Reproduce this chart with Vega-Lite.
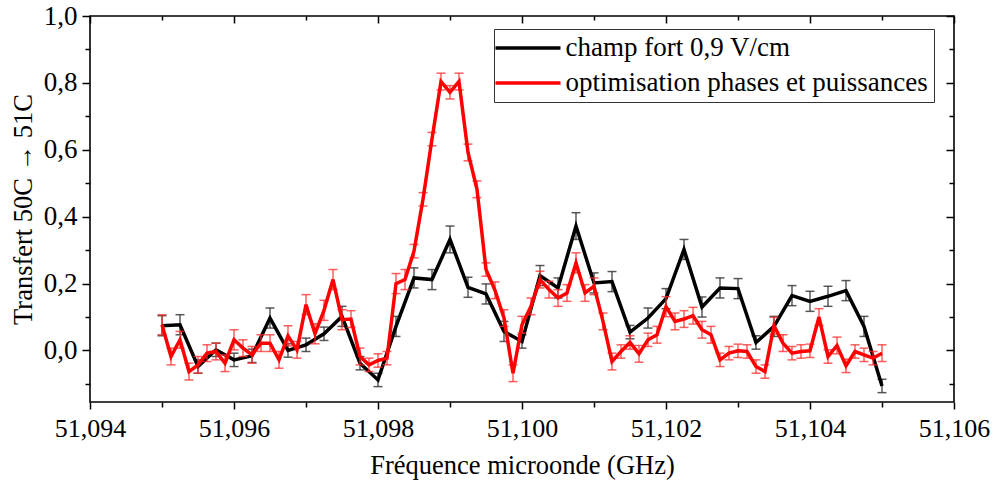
{
  "$schema": "https://vega.github.io/schema/vega-lite/v6.json",
  "width": 864,
  "height": 386,
  "autosize": {"type": "none"},
  "padding": {"left": 90, "top": 16, "right": 40, "bottom": 94},
  "background": "white",
  "config": {
    "view": {"stroke": "#000000", "strokeWidth": 1.6},
    "axis": {
      "grid": false,
      "domain": false,
      "labelFont": "Liberation Serif",
      "labelFontSize": 26,
      "labelColor": "#000000",
      "titleFont": "Liberation Serif",
      "titleFontSize": 26.5,
      "titleFontWeight": "normal",
      "titleColor": "#000000",
      "tickColor": "#000000",
      "tickWidth": 1.5,
      "labelFlush": false,
      "labelOverlap": false
    },
    "legend": {
      "labelFont": "Liberation Serif",
      "labelFontSize": 27,
      "labelColor": "#000000"
    }
  },
  "datasets": {
    "black": [
      {"x": 51.09500, "y": 0.074, "err": 0.03, "series": "champ fort 0,9 V/cm"},
      {"x": 51.09525, "y": 0.077, "err": 0.03, "series": "champ fort 0,9 V/cm"},
      {"x": 51.09550, "y": -0.048, "err": 0.02, "series": "champ fort 0,9 V/cm"},
      {"x": 51.09575, "y": 0.002, "err": 0.02, "series": "champ fort 0,9 V/cm"},
      {"x": 51.09600, "y": -0.028, "err": 0.02, "series": "champ fort 0,9 V/cm"},
      {"x": 51.09625, "y": -0.016, "err": 0.02, "series": "champ fort 0,9 V/cm"},
      {"x": 51.09650, "y": 0.097, "err": 0.03, "series": "champ fort 0,9 V/cm"},
      {"x": 51.09675, "y": 0.000, "err": 0.02, "series": "champ fort 0,9 V/cm"},
      {"x": 51.09700, "y": 0.017, "err": 0.02, "series": "champ fort 0,9 V/cm"},
      {"x": 51.09725, "y": 0.050, "err": 0.02, "series": "champ fort 0,9 V/cm"},
      {"x": 51.09750, "y": 0.102, "err": 0.03, "series": "champ fort 0,9 V/cm"},
      {"x": 51.09775, "y": -0.038, "err": 0.02, "series": "champ fort 0,9 V/cm"},
      {"x": 51.09800, "y": -0.088, "err": 0.02, "series": "champ fort 0,9 V/cm"},
      {"x": 51.09825, "y": 0.072, "err": 0.03, "series": "champ fort 0,9 V/cm"},
      {"x": 51.09850, "y": 0.217, "err": 0.03, "series": "champ fort 0,9 V/cm"},
      {"x": 51.09875, "y": 0.212, "err": 0.03, "series": "champ fort 0,9 V/cm"},
      {"x": 51.09900, "y": 0.332, "err": 0.04, "series": "champ fort 0,9 V/cm"},
      {"x": 51.09925, "y": 0.189, "err": 0.03, "series": "champ fort 0,9 V/cm"},
      {"x": 51.09950, "y": 0.169, "err": 0.03, "series": "champ fort 0,9 V/cm"},
      {"x": 51.09975, "y": 0.057, "err": 0.03, "series": "champ fort 0,9 V/cm"},
      {"x": 51.10000, "y": 0.027, "err": 0.02, "series": "champ fort 0,9 V/cm"},
      {"x": 51.10025, "y": 0.224, "err": 0.03, "series": "champ fort 0,9 V/cm"},
      {"x": 51.10050, "y": 0.187, "err": 0.03, "series": "champ fort 0,9 V/cm"},
      {"x": 51.10075, "y": 0.372, "err": 0.04, "series": "champ fort 0,9 V/cm"},
      {"x": 51.10100, "y": 0.202, "err": 0.03, "series": "champ fort 0,9 V/cm"},
      {"x": 51.10125, "y": 0.206, "err": 0.03, "series": "champ fort 0,9 V/cm"},
      {"x": 51.10150, "y": 0.055, "err": 0.02, "series": "champ fort 0,9 V/cm"},
      {"x": 51.10175, "y": 0.097, "err": 0.03, "series": "champ fort 0,9 V/cm"},
      {"x": 51.10200, "y": 0.155, "err": 0.03, "series": "champ fort 0,9 V/cm"},
      {"x": 51.10225, "y": 0.302, "err": 0.03, "series": "champ fort 0,9 V/cm"},
      {"x": 51.10250, "y": 0.130, "err": 0.03, "series": "champ fort 0,9 V/cm"},
      {"x": 51.10275, "y": 0.187, "err": 0.03, "series": "champ fort 0,9 V/cm"},
      {"x": 51.10300, "y": 0.185, "err": 0.03, "series": "champ fort 0,9 V/cm"},
      {"x": 51.10325, "y": 0.024, "err": 0.02, "series": "champ fort 0,9 V/cm"},
      {"x": 51.10350, "y": 0.072, "err": 0.03, "series": "champ fort 0,9 V/cm"},
      {"x": 51.10375, "y": 0.164, "err": 0.03, "series": "champ fort 0,9 V/cm"},
      {"x": 51.10400, "y": 0.147, "err": 0.03, "series": "champ fort 0,9 V/cm"},
      {"x": 51.10425, "y": 0.162, "err": 0.03, "series": "champ fort 0,9 V/cm"},
      {"x": 51.10450, "y": 0.179, "err": 0.03, "series": "champ fort 0,9 V/cm"},
      {"x": 51.10475, "y": 0.072, "err": 0.03, "series": "champ fort 0,9 V/cm"},
      {"x": 51.10500, "y": -0.106, "err": 0.02, "series": "champ fort 0,9 V/cm"}
    ],
    "red": [
      {"x": 51.095000, "y": 0.077, "err": 0.03, "series": "optimisation phases et puissances"},
      {"x": 51.095125, "y": -0.018, "err": 0.025, "series": "optimisation phases et puissances"},
      {"x": 51.095250, "y": 0.032, "err": 0.025, "series": "optimisation phases et puissances"},
      {"x": 51.095375, "y": -0.063, "err": 0.025, "series": "optimisation phases et puissances"},
      {"x": 51.095500, "y": -0.043, "err": 0.025, "series": "optimisation phases et puissances"},
      {"x": 51.095625, "y": -0.008, "err": 0.025, "series": "optimisation phases et puissances"},
      {"x": 51.095750, "y": -0.003, "err": 0.025, "series": "optimisation phases et puissances"},
      {"x": 51.095875, "y": -0.038, "err": 0.025, "series": "optimisation phases et puissances"},
      {"x": 51.096000, "y": 0.032, "err": 0.03, "series": "optimisation phases et puissances"},
      {"x": 51.096125, "y": 0.007, "err": 0.025, "series": "optimisation phases et puissances"},
      {"x": 51.096250, "y": -0.013, "err": 0.025, "series": "optimisation phases et puissances"},
      {"x": 51.096375, "y": 0.022, "err": 0.025, "series": "optimisation phases et puissances"},
      {"x": 51.096500, "y": 0.022, "err": 0.025, "series": "optimisation phases et puissances"},
      {"x": 51.096625, "y": -0.028, "err": 0.025, "series": "optimisation phases et puissances"},
      {"x": 51.096750, "y": 0.044, "err": 0.03, "series": "optimisation phases et puissances"},
      {"x": 51.096875, "y": 0.002, "err": 0.025, "series": "optimisation phases et puissances"},
      {"x": 51.097000, "y": 0.137, "err": 0.03, "series": "optimisation phases et puissances"},
      {"x": 51.097125, "y": 0.050, "err": 0.03, "series": "optimisation phases et puissances"},
      {"x": 51.097250, "y": 0.120, "err": 0.03, "series": "optimisation phases et puissances"},
      {"x": 51.097375, "y": 0.212, "err": 0.03, "series": "optimisation phases et puissances"},
      {"x": 51.097500, "y": 0.092, "err": 0.03, "series": "optimisation phases et puissances"},
      {"x": 51.097625, "y": 0.094, "err": 0.025, "series": "optimisation phases et puissances"},
      {"x": 51.097750, "y": -0.018, "err": 0.025, "series": "optimisation phases et puissances"},
      {"x": 51.097875, "y": -0.043, "err": 0.02, "series": "optimisation phases et puissances"},
      {"x": 51.098000, "y": -0.030, "err": 0.02, "series": "optimisation phases et puissances"},
      {"x": 51.098125, "y": -0.023, "err": 0.02, "series": "optimisation phases et puissances"},
      {"x": 51.098250, "y": 0.200, "err": 0.03, "series": "optimisation phases et puissances"},
      {"x": 51.098375, "y": 0.212, "err": 0.03, "series": "optimisation phases et puissances"},
      {"x": 51.098500, "y": 0.297, "err": 0.02, "series": "optimisation phases et puissances"},
      {"x": 51.098625, "y": 0.452, "err": 0.02, "series": "optimisation phases et puissances"},
      {"x": 51.098750, "y": 0.632, "err": 0.02, "series": "optimisation phases et puissances"},
      {"x": 51.098875, "y": 0.804, "err": 0.025, "series": "optimisation phases et puissances"},
      {"x": 51.099000, "y": 0.772, "err": 0.02, "series": "optimisation phases et puissances"},
      {"x": 51.099125, "y": 0.804, "err": 0.025, "series": "optimisation phases et puissances"},
      {"x": 51.099250, "y": 0.592, "err": 0.025, "series": "optimisation phases et puissances"},
      {"x": 51.099375, "y": 0.482, "err": 0.025, "series": "optimisation phases et puissances"},
      {"x": 51.099500, "y": 0.242, "err": 0.02, "series": "optimisation phases et puissances"},
      {"x": 51.099625, "y": 0.180, "err": 0.025, "series": "optimisation phases et puissances"},
      {"x": 51.099750, "y": 0.097, "err": 0.025, "series": "optimisation phases et puissances"},
      {"x": 51.099875, "y": -0.068, "err": 0.025, "series": "optimisation phases et puissances"},
      {"x": 51.100000, "y": 0.077, "err": 0.025, "series": "optimisation phases et puissances"},
      {"x": 51.100125, "y": 0.132, "err": 0.025, "series": "optimisation phases et puissances"},
      {"x": 51.100250, "y": 0.212, "err": 0.025, "series": "optimisation phases et puissances"},
      {"x": 51.100375, "y": 0.182, "err": 0.025, "series": "optimisation phases et puissances"},
      {"x": 51.100500, "y": 0.157, "err": 0.025, "series": "optimisation phases et puissances"},
      {"x": 51.100625, "y": 0.172, "err": 0.025, "series": "optimisation phases et puissances"},
      {"x": 51.100750, "y": 0.262, "err": 0.03, "series": "optimisation phases et puissances"},
      {"x": 51.100875, "y": 0.172, "err": 0.025, "series": "optimisation phases et puissances"},
      {"x": 51.101000, "y": 0.192, "err": 0.025, "series": "optimisation phases et puissances"},
      {"x": 51.101125, "y": 0.087, "err": 0.025, "series": "optimisation phases et puissances"},
      {"x": 51.101250, "y": -0.033, "err": 0.025, "series": "optimisation phases et puissances"},
      {"x": 51.101375, "y": -0.003, "err": 0.02, "series": "optimisation phases et puissances"},
      {"x": 51.101500, "y": 0.024, "err": 0.02, "series": "optimisation phases et puissances"},
      {"x": 51.101625, "y": -0.010, "err": 0.025, "series": "optimisation phases et puissances"},
      {"x": 51.101750, "y": 0.032, "err": 0.02, "series": "optimisation phases et puissances"},
      {"x": 51.101875, "y": 0.047, "err": 0.025, "series": "optimisation phases et puissances"},
      {"x": 51.102000, "y": 0.131, "err": 0.03, "series": "optimisation phases et puissances"},
      {"x": 51.102125, "y": 0.087, "err": 0.025, "series": "optimisation phases et puissances"},
      {"x": 51.102250, "y": 0.094, "err": 0.025, "series": "optimisation phases et puissances"},
      {"x": 51.102375, "y": 0.104, "err": 0.025, "series": "optimisation phases et puissances"},
      {"x": 51.102500, "y": 0.062, "err": 0.025, "series": "optimisation phases et puissances"},
      {"x": 51.102625, "y": 0.047, "err": 0.025, "series": "optimisation phases et puissances"},
      {"x": 51.102750, "y": -0.028, "err": 0.02, "series": "optimisation phases et puissances"},
      {"x": 51.102875, "y": -0.008, "err": 0.02, "series": "optimisation phases et puissances"},
      {"x": 51.103000, "y": -0.001, "err": 0.02, "series": "optimisation phases et puissances"},
      {"x": 51.103125, "y": -0.003, "err": 0.02, "series": "optimisation phases et puissances"},
      {"x": 51.103250, "y": -0.048, "err": 0.02, "series": "optimisation phases et puissances"},
      {"x": 51.103375, "y": -0.063, "err": 0.02, "series": "optimisation phases et puissances"},
      {"x": 51.103500, "y": 0.074, "err": 0.025, "series": "optimisation phases et puissances"},
      {"x": 51.103625, "y": 0.022, "err": 0.025, "series": "optimisation phases et puissances"},
      {"x": 51.103750, "y": -0.008, "err": 0.02, "series": "optimisation phases et puissances"},
      {"x": 51.103875, "y": -0.003, "err": 0.02, "series": "optimisation phases et puissances"},
      {"x": 51.104000, "y": -0.001, "err": 0.02, "series": "optimisation phases et puissances"},
      {"x": 51.104125, "y": 0.100, "err": 0.025, "series": "optimisation phases et puissances"},
      {"x": 51.104250, "y": -0.018, "err": 0.02, "series": "optimisation phases et puissances"},
      {"x": 51.104375, "y": 0.015, "err": 0.025, "series": "optimisation phases et puissances"},
      {"x": 51.104500, "y": -0.046, "err": 0.02, "series": "optimisation phases et puissances"},
      {"x": 51.104625, "y": -0.003, "err": 0.02, "series": "optimisation phases et puissances"},
      {"x": 51.104750, "y": -0.013, "err": 0.02, "series": "optimisation phases et puissances"},
      {"x": 51.104875, "y": -0.023, "err": 0.02, "series": "optimisation phases et puissances"},
      {"x": 51.105000, "y": -0.008, "err": 0.025, "series": "optimisation phases et puissances"}
    ]
  },
  "resolve": {"axis": {"x": "independent", "y": "independent"}},
  "layer": [
    {
      "data": {"name": "black"},
      "mark": {"type": "errorbar", "ticks": true, "size": 9, "thickness": 1.5, "color": "#3c3c3c", "opacity": 0.85},
      "encoding": {
        "x": {
          "field": "x", "type": "quantitative",
          "scale": {"domain": [51.094, 51.106], "nice": false, "zero": false},
          "axis": {
            "orient": "bottom",
            "title": "Fréquence microonde (GHz)",
            "values": [51.094, 51.095, 51.096, 51.097, 51.098, 51.099, 51.1, 51.101, 51.102, 51.103, 51.104, 51.105, 51.106],
            "labelExpr": "round(datum.value*1000) % 2 == 0 ? replace(format(datum.value, '.3f'), '.', ',') : ''",
            "tickSize": {"condition": {"test": "round(datum.value*1000) % 2 == 0", "value": 7}, "value": 5},
            "labelPadding": 6,
            "titlePadding": 11
          }
        },
        "y": {
          "field": "y", "type": "quantitative",
          "scale": {"domain": [-0.154, 1.0], "nice": false, "zero": false},
          "axis": {
            "orient": "left",
            "title": "Transfert 50C → 51C",
            "values": [-0.1, 0, 0.1, 0.2, 0.3, 0.4, 0.5, 0.6, 0.7, 0.8, 0.9, 1.0],
            "labelExpr": "abs(datum.value*5 - round(datum.value*5)) < 0.001 ? replace(format(datum.value, '.1f'), '.', ',') : ''",
            "tickSize": {"condition": {"test": "abs(datum.value*5 - round(datum.value*5)) < 0.001", "value": 8}, "value": 5},
            "labelFontSize": 27,
            "labelPadding": 5,
            "titlePadding": 6
          }
        },
        "yError": {"field": "err"}
      }
    },
    {
      "data": {"name": "black"},
      "mark": {"type": "line", "strokeWidth": 3.5},
      "encoding": {
        "x": {"field": "x", "type": "quantitative", "axis": null},
        "y": {"field": "y", "type": "quantitative", "axis": null},
        "color": {
          "field": "series", "type": "nominal",
          "scale": {"domain": ["champ fort 0,9 V/cm", "optimisation phases et puissances"], "range": ["#000000", "#ff0000"]},
          "legend": {
            "title": null,
            "orient": "none",
            "legendX": 404,
            "legendY": 13,
            "symbolType": "M-3.25,0L3.25,0",
            "symbolSize": 400,
            "symbolStrokeWidth": 3.5,
            "symbolOffset": 15,
            "labelOffset": 24,
            "rowPadding": 7,
            "padding": 5.5,
            "strokeColor": "#333333",
            "fillColor": "#ffffff",
            "labelLimit": 500
          }
        }
      }
    },
    {
      "data": {"name": "red"},
      "mark": {"type": "errorbar", "ticks": true, "size": 9, "thickness": 1.5, "color": "#ff2a2a", "opacity": 0.75},
      "encoding": {
        "x": {
          "field": "x", "type": "quantitative",
          "axis": {
            "orient": "top",
            "title": null,
            "labels": false,
            "values": [51.094, 51.095, 51.096, 51.097, 51.098, 51.099, 51.1, 51.101, 51.102, 51.103, 51.104, 51.105, 51.106],
            "tickSize": {"condition": {"test": "round(datum.value*1000) % 2 == 0", "value": -7}, "value": -4}
          }
        },
        "y": {
          "field": "y", "type": "quantitative",
          "axis": {
            "orient": "right",
            "title": null,
            "labels": false,
            "values": [-0.1, 0, 0.1, 0.2, 0.3, 0.4, 0.5, 0.6, 0.7, 0.8, 0.9, 1.0],
            "tickSize": {"condition": {"test": "abs(datum.value*5 - round(datum.value*5)) < 0.001", "value": -8}, "value": -5}
          }
        },
        "yError": {"field": "err"}
      }
    },
    {
      "data": {"name": "red"},
      "mark": {"type": "line", "strokeWidth": 3.5},
      "encoding": {
        "x": {"field": "x", "type": "quantitative", "axis": null},
        "y": {"field": "y", "type": "quantitative", "axis": null},
        "color": {"field": "series", "type": "nominal"}
      }
    }
  ]
}
